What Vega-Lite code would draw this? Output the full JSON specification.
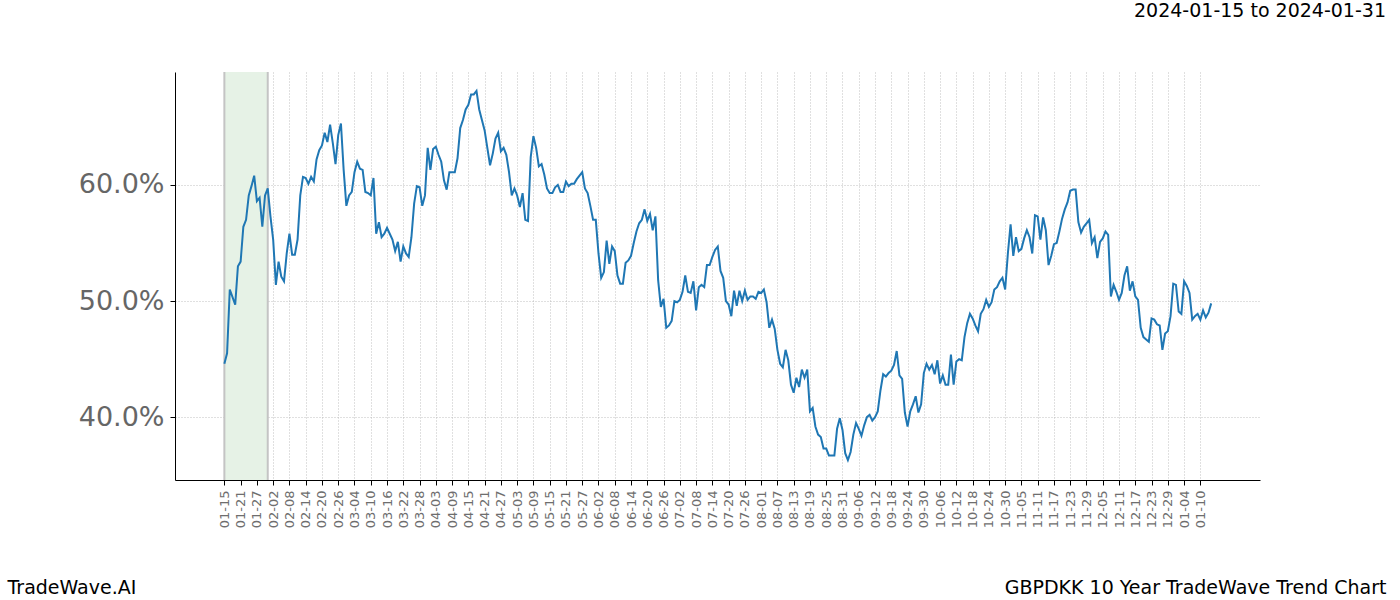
{
"$schema": "https://vega.github.io/schema/vega-lite/v6.json",
"width": 1085,
"height": 408,
"autosize": {"type": "none"},
"padding": {"left": 175, "top": 72, "right": 140, "bottom": 120},
"background": "white",
"title": {"text": "2024-01-15 to 2024-01-31", "anchor": "end", "frame": "group", "dx": 126, "offset": 35, "baseline": "alphabetic", "fontSize": 19, "fontWeight": "normal", "font": "DejaVu Sans", "color": "#000000"},
"config": {"view": {"stroke": null}, "font": "DejaVu Sans"},
"datasets": {
"span": [{"date": "2023-01-15", "end": "2023-01-31"}],
"edges": [{"date": "2023-01-15"}, {"date": "2023-01-31"}],
"series": [
{"date":"2023-01-15","v":0.446},{"date":"2023-01-16","v":0.455},{"date":"2023-01-17","v":0.510},{"date":"2023-01-19","v":0.497},{"date":"2023-01-20","v":0.530},{"date":"2023-01-21","v":0.534},{"date":"2023-01-22","v":0.564},{"date":"2023-01-23","v":0.570},{"date":"2023-01-24","v":0.591},{"date":"2023-01-25","v":0.599},{"date":"2023-01-26","v":0.608},{"date":"2023-01-27","v":0.586},{"date":"2023-01-28","v":0.589},{"date":"2023-01-29","v":0.564},{"date":"2023-01-30","v":0.591},{"date":"2023-01-31","v":0.597},
{"date":"2023-02-01","v":0.573},{"date":"2023-02-02","v":0.553},{"date":"2023-02-03","v":0.514},{"date":"2023-02-04","v":0.534},{"date":"2023-02-05","v":0.521},{"date":"2023-02-06","v":0.517},{"date":"2023-02-07","v":0.541},{"date":"2023-02-08","v":0.558},{"date":"2023-02-09","v":0.540},{"date":"2023-02-10","v":0.540},{"date":"2023-02-11","v":0.553},{"date":"2023-02-12","v":0.591},{"date":"2023-02-13","v":0.607},{"date":"2023-02-14","v":0.606},{"date":"2023-02-15","v":0.601},{"date":"2023-02-16","v":0.607},{"date":"2023-02-17","v":0.603},{"date":"2023-02-18","v":0.622},{"date":"2023-02-19","v":0.630},{"date":"2023-02-20","v":0.634},{"date":"2023-02-21","v":0.645},{"date":"2023-02-22","v":0.637},{"date":"2023-02-23","v":0.652},{"date":"2023-02-24","v":0.636},{"date":"2023-02-25","v":0.618},{"date":"2023-02-26","v":0.643},{"date":"2023-02-27","v":0.653},{"date":"2023-02-28","v":0.613},
{"date":"2023-03-01","v":0.582},{"date":"2023-03-02","v":0.591},{"date":"2023-03-03","v":0.594},{"date":"2023-03-04","v":0.611},{"date":"2023-03-05","v":0.620},{"date":"2023-03-06","v":0.614},{"date":"2023-03-07","v":0.613},{"date":"2023-03-08","v":0.594},{"date":"2023-03-09","v":0.593},{"date":"2023-03-10","v":0.591},{"date":"2023-03-11","v":0.606},{"date":"2023-03-12","v":0.558},{"date":"2023-03-13","v":0.568},{"date":"2023-03-14","v":0.555},{"date":"2023-03-15","v":0.558},{"date":"2023-03-16","v":0.563},{"date":"2023-03-17","v":0.558},{"date":"2023-03-18","v":0.553},{"date":"2023-03-19","v":0.543},{"date":"2023-03-20","v":0.551},{"date":"2023-03-21","v":0.534},{"date":"2023-03-22","v":0.547},{"date":"2023-03-23","v":0.541},{"date":"2023-03-24","v":0.538},{"date":"2023-03-25","v":0.555},{"date":"2023-03-26","v":0.584},{"date":"2023-03-27","v":0.599},{"date":"2023-03-28","v":0.598},{"date":"2023-03-29","v":0.582},{"date":"2023-03-30","v":0.591},{"date":"2023-03-31","v":0.632},
{"date":"2023-04-01","v":0.613},{"date":"2023-04-02","v":0.631},{"date":"2023-04-03","v":0.633},{"date":"2023-04-04","v":0.626},{"date":"2023-04-05","v":0.620},{"date":"2023-04-06","v":0.604},{"date":"2023-04-07","v":0.596},{"date":"2023-04-08","v":0.611},{"date":"2023-04-09","v":0.611},{"date":"2023-04-10","v":0.611},{"date":"2023-04-11","v":0.623},{"date":"2023-04-12","v":0.649},{"date":"2023-04-13","v":0.656},{"date":"2023-04-14","v":0.665},{"date":"2023-04-15","v":0.669},{"date":"2023-04-16","v":0.678},{"date":"2023-04-17","v":0.678},{"date":"2023-04-18","v":0.681},{"date":"2023-04-19","v":0.665},{"date":"2023-04-20","v":0.656},{"date":"2023-04-21","v":0.647},{"date":"2023-04-22","v":0.632},{"date":"2023-04-23","v":0.617},{"date":"2023-04-24","v":0.627},{"date":"2023-04-25","v":0.640},{"date":"2023-04-26","v":0.645},{"date":"2023-04-27","v":0.629},{"date":"2023-04-28","v":0.632},{"date":"2023-04-29","v":0.626},{"date":"2023-04-30","v":0.611},
{"date":"2023-05-01","v":0.591},{"date":"2023-05-02","v":0.597},{"date":"2023-05-03","v":0.591},{"date":"2023-05-04","v":0.581},{"date":"2023-05-05","v":0.593},{"date":"2023-05-06","v":0.570},{"date":"2023-05-07","v":0.569},{"date":"2023-05-08","v":0.624},{"date":"2023-05-09","v":0.642},{"date":"2023-05-10","v":0.632},{"date":"2023-05-11","v":0.616},{"date":"2023-05-12","v":0.618},{"date":"2023-05-13","v":0.609},{"date":"2023-05-14","v":0.597},{"date":"2023-05-15","v":0.593},{"date":"2023-05-16","v":0.593},{"date":"2023-05-17","v":0.598},{"date":"2023-05-18","v":0.600},{"date":"2023-05-19","v":0.594},{"date":"2023-05-20","v":0.594},{"date":"2023-05-21","v":0.603},{"date":"2023-05-22","v":0.599},{"date":"2023-05-23","v":0.601},{"date":"2023-05-24","v":0.601},{"date":"2023-05-25","v":0.605},{"date":"2023-05-26","v":0.608},{"date":"2023-05-27","v":0.611},{"date":"2023-05-28","v":0.597},{"date":"2023-05-29","v":0.593},{"date":"2023-05-30","v":0.582},{"date":"2023-05-31","v":0.570},
{"date":"2023-06-01","v":0.570},{"date":"2023-06-02","v":0.541},{"date":"2023-06-03","v":0.520},{"date":"2023-06-04","v":0.525},{"date":"2023-06-05","v":0.552},{"date":"2023-06-06","v":0.532},{"date":"2023-06-07","v":0.547},{"date":"2023-06-08","v":0.543},{"date":"2023-06-09","v":0.522},{"date":"2023-06-10","v":0.515},{"date":"2023-06-11","v":0.515},{"date":"2023-06-12","v":0.533},{"date":"2023-06-13","v":0.535},{"date":"2023-06-14","v":0.539},{"date":"2023-06-15","v":0.550},{"date":"2023-06-16","v":0.560},{"date":"2023-06-17","v":0.567},{"date":"2023-06-18","v":0.570},{"date":"2023-06-19","v":0.579},{"date":"2023-06-20","v":0.569},{"date":"2023-06-21","v":0.575},{"date":"2023-06-22","v":0.561},{"date":"2023-06-23","v":0.573},{"date":"2023-06-24","v":0.518},{"date":"2023-06-25","v":0.495},{"date":"2023-06-26","v":0.502},{"date":"2023-06-27","v":0.477},{"date":"2023-06-28","v":0.479},{"date":"2023-06-29","v":0.483},{"date":"2023-06-30","v":0.500},
{"date":"2023-07-01","v":0.499},{"date":"2023-07-02","v":0.501},{"date":"2023-07-03","v":0.508},{"date":"2023-07-04","v":0.522},{"date":"2023-07-05","v":0.508},{"date":"2023-07-06","v":0.507},{"date":"2023-07-07","v":0.517},{"date":"2023-07-08","v":0.492},{"date":"2023-07-09","v":0.512},{"date":"2023-07-10","v":0.514},{"date":"2023-07-11","v":0.512},{"date":"2023-07-12","v":0.531},{"date":"2023-07-13","v":0.531},{"date":"2023-07-14","v":0.538},{"date":"2023-07-15","v":0.544},{"date":"2023-07-16","v":0.547},{"date":"2023-07-17","v":0.526},{"date":"2023-07-18","v":0.520},{"date":"2023-07-19","v":0.500},{"date":"2023-07-20","v":0.497},{"date":"2023-07-21","v":0.487},{"date":"2023-07-22","v":0.509},{"date":"2023-07-23","v":0.496},{"date":"2023-07-24","v":0.509},{"date":"2023-07-25","v":0.500},{"date":"2023-07-26","v":0.509},{"date":"2023-07-27","v":0.501},{"date":"2023-07-28","v":0.504},{"date":"2023-07-29","v":0.504},{"date":"2023-07-30","v":0.502},{"date":"2023-07-31","v":0.508},
{"date":"2023-08-01","v":0.507},{"date":"2023-08-02","v":0.510},{"date":"2023-08-03","v":0.499},{"date":"2023-08-04","v":0.477},{"date":"2023-08-05","v":0.484},{"date":"2023-08-06","v":0.476},{"date":"2023-08-07","v":0.458},{"date":"2023-08-08","v":0.446},{"date":"2023-08-09","v":0.443},{"date":"2023-08-10","v":0.458},{"date":"2023-08-11","v":0.449},{"date":"2023-08-12","v":0.428},{"date":"2023-08-13","v":0.421},{"date":"2023-08-14","v":0.434},{"date":"2023-08-15","v":0.426},{"date":"2023-08-16","v":0.441},{"date":"2023-08-17","v":0.434},{"date":"2023-08-18","v":0.441},{"date":"2023-08-19","v":0.405},{"date":"2023-08-20","v":0.408},{"date":"2023-08-21","v":0.392},{"date":"2023-08-22","v":0.385},{"date":"2023-08-23","v":0.383},{"date":"2023-08-24","v":0.373},{"date":"2023-08-25","v":0.373},{"date":"2023-08-26","v":0.367},{"date":"2023-08-27","v":0.367},{"date":"2023-08-28","v":0.367},{"date":"2023-08-29","v":0.390},{"date":"2023-08-30","v":0.399},{"date":"2023-08-31","v":0.389},
{"date":"2023-09-01","v":0.369},{"date":"2023-09-02","v":0.363},{"date":"2023-09-03","v":0.370},{"date":"2023-09-04","v":0.385},{"date":"2023-09-05","v":0.395},{"date":"2023-09-06","v":0.390},{"date":"2023-09-07","v":0.384},{"date":"2023-09-08","v":0.393},{"date":"2023-09-09","v":0.400},{"date":"2023-09-10","v":0.402},{"date":"2023-09-11","v":0.397},{"date":"2023-09-12","v":0.400},{"date":"2023-09-13","v":0.405},{"date":"2023-09-14","v":0.423},{"date":"2023-09-15","v":0.437},{"date":"2023-09-16","v":0.435},{"date":"2023-09-17","v":0.438},{"date":"2023-09-18","v":0.440},{"date":"2023-09-19","v":0.445},{"date":"2023-09-20","v":0.457},{"date":"2023-09-21","v":0.436},{"date":"2023-09-22","v":0.433},{"date":"2023-09-23","v":0.404},{"date":"2023-09-24","v":0.392},{"date":"2023-09-25","v":0.405},{"date":"2023-09-26","v":0.411},{"date":"2023-09-27","v":0.418},{"date":"2023-09-28","v":0.404},{"date":"2023-09-29","v":0.411},{"date":"2023-09-30","v":0.438},
{"date":"2023-10-01","v":0.446},{"date":"2023-10-02","v":0.441},{"date":"2023-10-03","v":0.445},{"date":"2023-10-04","v":0.437},{"date":"2023-10-05","v":0.449},{"date":"2023-10-06","v":0.429},{"date":"2023-10-07","v":0.436},{"date":"2023-10-08","v":0.428},{"date":"2023-10-09","v":0.428},{"date":"2023-10-10","v":0.454},{"date":"2023-10-11","v":0.428},{"date":"2023-10-12","v":0.448},{"date":"2023-10-13","v":0.450},{"date":"2023-10-14","v":0.449},{"date":"2023-10-15","v":0.469},{"date":"2023-10-16","v":0.481},{"date":"2023-10-17","v":0.489},{"date":"2023-10-18","v":0.485},{"date":"2023-10-19","v":0.479},{"date":"2023-10-20","v":0.474},{"date":"2023-10-21","v":0.489},{"date":"2023-10-22","v":0.493},{"date":"2023-10-23","v":0.501},{"date":"2023-10-24","v":0.495},{"date":"2023-10-25","v":0.499},{"date":"2023-10-26","v":0.510},{"date":"2023-10-27","v":0.512},{"date":"2023-10-28","v":0.517},{"date":"2023-10-29","v":0.520},{"date":"2023-10-30","v":0.510},{"date":"2023-10-31","v":0.541},
{"date":"2023-11-01","v":0.566},{"date":"2023-11-02","v":0.539},{"date":"2023-11-03","v":0.555},{"date":"2023-11-04","v":0.543},{"date":"2023-11-05","v":0.545},{"date":"2023-11-06","v":0.554},{"date":"2023-11-07","v":0.561},{"date":"2023-11-08","v":0.555},{"date":"2023-11-09","v":0.541},{"date":"2023-11-10","v":0.574},{"date":"2023-11-11","v":0.573},{"date":"2023-11-12","v":0.553},{"date":"2023-11-13","v":0.572},{"date":"2023-11-14","v":0.561},{"date":"2023-11-15","v":0.531},{"date":"2023-11-16","v":0.539},{"date":"2023-11-17","v":0.549},{"date":"2023-11-18","v":0.550},{"date":"2023-11-19","v":0.560},{"date":"2023-11-20","v":0.571},{"date":"2023-11-21","v":0.579},{"date":"2023-11-22","v":0.585},{"date":"2023-11-23","v":0.595},{"date":"2023-11-24","v":0.596},{"date":"2023-11-25","v":0.596},{"date":"2023-11-26","v":0.568},{"date":"2023-11-27","v":0.559},{"date":"2023-11-28","v":0.564},{"date":"2023-11-29","v":0.567},{"date":"2023-11-30","v":0.570},
{"date":"2023-12-01","v":0.550},{"date":"2023-12-02","v":0.555},{"date":"2023-12-03","v":0.537},{"date":"2023-12-04","v":0.551},{"date":"2023-12-05","v":0.554},{"date":"2023-12-06","v":0.560},{"date":"2023-12-07","v":0.557},{"date":"2023-12-08","v":0.504},{"date":"2023-12-09","v":0.514},{"date":"2023-12-10","v":0.508},{"date":"2023-12-11","v":0.501},{"date":"2023-12-12","v":0.507},{"date":"2023-12-13","v":0.522},{"date":"2023-12-14","v":0.530},{"date":"2023-12-15","v":0.509},{"date":"2023-12-16","v":0.517},{"date":"2023-12-17","v":0.504},{"date":"2023-12-18","v":0.501},{"date":"2023-12-19","v":0.477},{"date":"2023-12-20","v":0.469},{"date":"2023-12-21","v":0.467},{"date":"2023-12-22","v":0.465},{"date":"2023-12-23","v":0.485},{"date":"2023-12-24","v":0.484},{"date":"2023-12-25","v":0.480},{"date":"2023-12-26","v":0.479},{"date":"2023-12-27","v":0.458},{"date":"2023-12-28","v":0.472},{"date":"2023-12-29","v":0.474},{"date":"2023-12-30","v":0.487},{"date":"2023-12-31","v":0.515},
{"date":"2024-01-01","v":0.514},{"date":"2024-01-02","v":0.491},{"date":"2024-01-03","v":0.489},{"date":"2024-01-04","v":0.517},{"date":"2024-01-05","v":0.513},{"date":"2024-01-06","v":0.507},{"date":"2024-01-07","v":0.484},{"date":"2024-01-08","v":0.487},{"date":"2024-01-09","v":0.489},{"date":"2024-01-10","v":0.484},{"date":"2024-01-11","v":0.492},{"date":"2024-01-12","v":0.486},{"date":"2024-01-13","v":0.490},{"date":"2024-01-14","v":0.498}
]
},
"encoding": {
"x": {
"field": "date", "type": "temporal",
"scale": {"type": "utc", "domain": [{"year": 2022, "month": 12, "date": 27, "hours": 19, "utc": true}, {"year": 2024, "month": 2, "date": 1, "utc": true}]},
"axis": {
"values": [
{"year":2023,"month":1,"date":15,"utc":true},{"year":2023,"month":1,"date":21,"utc":true},{"year":2023,"month":1,"date":27,"utc":true},{"year":2023,"month":2,"date":2,"utc":true},{"year":2023,"month":2,"date":8,"utc":true},{"year":2023,"month":2,"date":14,"utc":true},{"year":2023,"month":2,"date":20,"utc":true},{"year":2023,"month":2,"date":26,"utc":true},{"year":2023,"month":3,"date":4,"utc":true},{"year":2023,"month":3,"date":10,"utc":true},{"year":2023,"month":3,"date":16,"utc":true},{"year":2023,"month":3,"date":22,"utc":true},{"year":2023,"month":3,"date":28,"utc":true},{"year":2023,"month":4,"date":3,"utc":true},{"year":2023,"month":4,"date":9,"utc":true},{"year":2023,"month":4,"date":15,"utc":true},{"year":2023,"month":4,"date":21,"utc":true},{"year":2023,"month":4,"date":27,"utc":true},{"year":2023,"month":5,"date":3,"utc":true},{"year":2023,"month":5,"date":9,"utc":true},{"year":2023,"month":5,"date":15,"utc":true},{"year":2023,"month":5,"date":21,"utc":true},{"year":2023,"month":5,"date":27,"utc":true},{"year":2023,"month":6,"date":2,"utc":true},{"year":2023,"month":6,"date":8,"utc":true},{"year":2023,"month":6,"date":14,"utc":true},{"year":2023,"month":6,"date":20,"utc":true},{"year":2023,"month":6,"date":26,"utc":true},{"year":2023,"month":7,"date":2,"utc":true},{"year":2023,"month":7,"date":8,"utc":true},{"year":2023,"month":7,"date":14,"utc":true},{"year":2023,"month":7,"date":20,"utc":true},{"year":2023,"month":7,"date":26,"utc":true},{"year":2023,"month":8,"date":1,"utc":true},{"year":2023,"month":8,"date":7,"utc":true},{"year":2023,"month":8,"date":13,"utc":true},{"year":2023,"month":8,"date":19,"utc":true},{"year":2023,"month":8,"date":25,"utc":true},{"year":2023,"month":8,"date":31,"utc":true},{"year":2023,"month":9,"date":6,"utc":true},{"year":2023,"month":9,"date":12,"utc":true},{"year":2023,"month":9,"date":18,"utc":true},{"year":2023,"month":9,"date":24,"utc":true},{"year":2023,"month":9,"date":30,"utc":true},{"year":2023,"month":10,"date":6,"utc":true},{"year":2023,"month":10,"date":12,"utc":true},{"year":2023,"month":10,"date":18,"utc":true},{"year":2023,"month":10,"date":24,"utc":true},{"year":2023,"month":10,"date":30,"utc":true},{"year":2023,"month":11,"date":5,"utc":true},{"year":2023,"month":11,"date":11,"utc":true},{"year":2023,"month":11,"date":17,"utc":true},{"year":2023,"month":11,"date":23,"utc":true},{"year":2023,"month":11,"date":29,"utc":true},{"year":2023,"month":12,"date":5,"utc":true},{"year":2023,"month":12,"date":11,"utc":true},{"year":2023,"month":12,"date":17,"utc":true},{"year":2023,"month":12,"date":23,"utc":true},{"year":2023,"month":12,"date":29,"utc":true},{"year":2024,"month":1,"date":4,"utc":true},{"year":2024,"month":1,"date":10,"utc":true}
],
"labelExpr": "utcFormat(datum.value, '%m-%d')",
"labelAngle": -90, "labelAlign": "right", "labelBaseline": "middle",
"labelFontSize": 13, "labelColor": "#6e6e6e", "labelPadding": 5, "labelFont": "DejaVu Sans",
"tickSize": 5, "tickColor": "#000000", "domainColor": "#000000", "domainWidth": 1,
"grid": true, "gridColor": "#b0b0b0", "gridDash": [1, 2], "gridWidth": 0.8,
"labelOverlap": false,
"title": "GBPDKK 10 Year TradeWave Trend Chart",
"titleFontSize": 19, "titleFontWeight": "normal", "titleColor": "#000000", "titleFont": "DejaVu Sans",
"titleAnchor": "end", "titleAlign": "right", "titleBaseline": "alphabetic", "titleX": 1211, "titleY": 113
}
}
},
"layer": [
{
"data": {"name": "span"},
"mark": {"type": "rect", "color": "#e6f2e6", "opacity": 1},
"encoding": {"x2": {"field": "end"}}
},
{
"data": {"name": "edges"},
"mark": {"type": "rule", "color": "#c4c4c4", "strokeWidth": 2},
"encoding": {}
},
{
"data": {"name": "series"},
"mark": {"type": "line", "color": "#1f77b4", "strokeWidth": 2},
"encoding": {
"y": {
"field": "v", "type": "quantitative",
"scale": {"domain": [0.3459, 0.6973], "nice": false, "zero": false},
"axis": {
"values": [0.4, 0.5, 0.6], "format": ".1%",
"labelFontSize": 27, "labelColor": "#666666", "labelPadding": 6, "labelFont": "DejaVu Sans",
"tickSize": 5, "tickColor": "#000000", "domainColor": "#000000", "domainWidth": 1,
"grid": true, "gridColor": "#b0b0b0", "gridDash": [1, 2], "gridWidth": 0.8,
"title": "TradeWave.AI",
"titleFontSize": 19, "titleFontWeight": "normal", "titleColor": "#000000", "titleFont": "DejaVu Sans",
"titleAngle": 0, "titleAlign": "left", "titleAnchor": "start", "titleBaseline": "alphabetic", "titleX": -168, "titleY": 521
}
}
}
}
]
}
